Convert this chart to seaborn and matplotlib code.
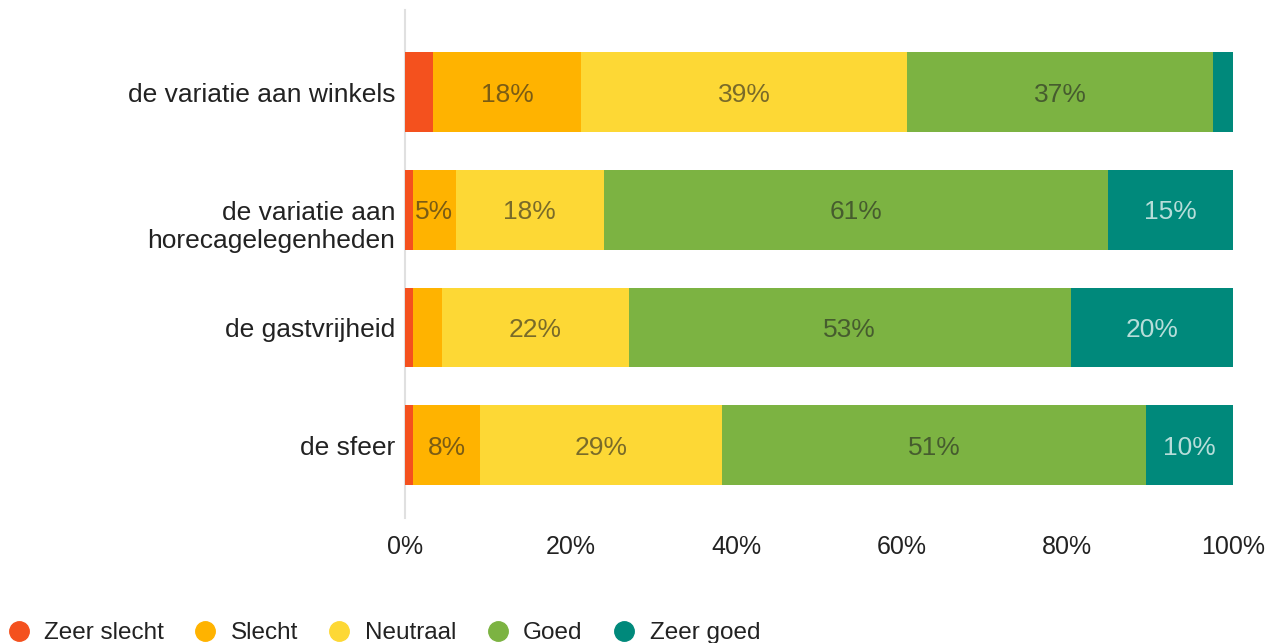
import numpy as np
import pandas as pd
import matplotlib
matplotlib.use("Agg")
import matplotlib.pyplot as plt
import matplotlib.transforms as mtransforms
from matplotlib.lines import Line2D
import seaborn as sns

# data (percentages)
aspects = ["de variatie aan winkels", "de variatie aan\nhorecagelegenheden", "de gastvrijheid", "de sfeer"]
categories = ["Zeer slecht", "Slecht", "Neutraal", "Goed", "Zeer goed"]
zeer_slecht = [3.4, 1.0, 1.0, 1.0]
slecht = [17.9, 5.1, 3.5, 8.1]
neutraal = [39.3, 17.9, 22.5, 29.2]
goed = [37.0, 60.9, 53.4, 51.2]
zeer_goed = [2.4, 15.1, 19.6, 10.5]
colors = ["#F4511E", "#FFB300", "#FDD835", "#7CB342", "#00897B"]

sns.set_theme(style="white")
plt.rcParams["font.family"] = ["Liberation Sans", "DejaVu Sans"]

df = pd.DataFrame(
    {"Zeer slecht": zeer_slecht, "Slecht": slecht, "Neutraal": neutraal, "Goed": goed, "Zeer goed": zeer_goed},
    index=aspects,
)
cum = df.cumsum(axis=1)

fig = plt.figure(figsize=(12.78, 6.43), dpi=100)
ax = fig.add_axes([405 / 1278, 1 - 518 / 643, (1233 - 405) / 1278, (518 - 10) / 643])

# stacked bars: draw cumulative totals from the largest down
for cat, col in reversed(list(zip(categories, colors))):
    sns.barplot(x=cum[cat].values, y=aspects, orient="h", color=col, saturation=1,
                width=0.68, linewidth=0, ax=ax, zorder=3)

# value labels
for i, name in enumerate(aspects):
    for cat in categories:
        val = df.loc[name, cat]
        if val < 5:
            continue
        center = cum.loc[name, cat] - val / 2
        if cat == "Zeer goed":
            tc, ta = "white", 0.72
        else:
            tc, ta = "#222222", 0.6
        ax.text(center, i, f"{val:.0f}%", ha="center", va="center_baseline", fontsize=19,
                color=tc, alpha=ta, zorder=4)

ax.set_xlim(0, 100)
ax.set_ylim(3.62, -0.70)
ax.set_xticks(range(0, 101, 20))
ax.set_xticklabels([f"{t}%" for t in range(0, 101, 20)])
ax.tick_params(axis="both", length=0, colors="#222222")
ax.tick_params(axis="x", pad=12, labelsize=18)
ax.tick_params(axis="y", pad=7, labelsize=19)
ax.set_xlabel("")
ax.set_ylabel("")
for s in ["top", "right", "bottom"]:
    ax.spines[s].set_visible(False)
ax.spines["left"].set_color("#e0e0e0")
ax.spines["left"].set_linewidth(1.5)
ax.spines["left"].set_zorder(1)

# multi-line label sits lower in the original (first line at bar centre)
for lbl in ax.get_yticklabels():
    if "\n" in lbl.get_text():
        lbl.set_transform(lbl.get_transform() + mtransforms.ScaledTranslation(0, -0.13, fig.dpi_scale_trans))

handles = [Line2D([], [], marker="o", ls="", color=c, markersize=14) for c in colors]
fig.legend(handles, categories, loc="center left", bbox_to_anchor=(0.005, 1 - 633 / 643),
           ncol=5, frameon=False, fontsize=17.5, handletextpad=0.55, columnspacing=1.2,
           borderpad=0, borderaxespad=0, handlelength=1.0, labelcolor="#222222")

fig.savefig("out.png", dpi=100)
